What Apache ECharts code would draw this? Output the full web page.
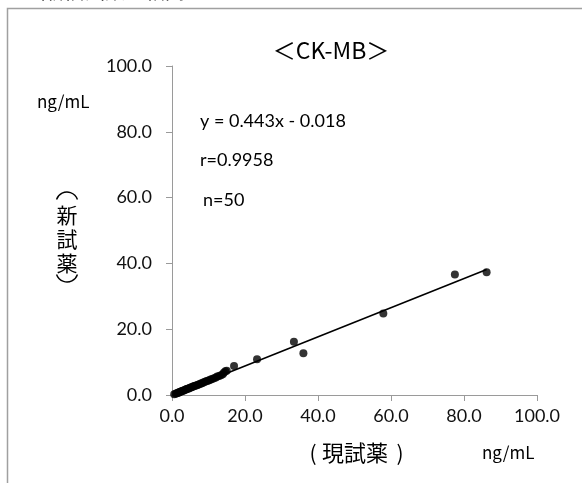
<!DOCTYPE html>
<html><head><meta charset="utf-8">
<script src="https://cdn.jsdelivr.net/npm/echarts@6/dist/echarts.min.js"></script>
<style>html,body{margin:0;padding:0;background:#fff}#c{width:582px;height:483px}</style>
</head><body><div id="c"></div>
<script>
// Data (現試薬 x, 新試薬 y), ng/mL
const xValues = [0.6,1.0,1.3,1.5,1.8,2.0,2.2,2.5,2.7,3.0,3.2,3.5,3.8,4.0,4.3,4.6,4.9,5.2,5.5,5.8,6.1,6.4,6.8,7.1,7.5,7.9,8.2,8.6,9.0,9.4,9.8,10.2,10.6,11.0,11.5,12.0,12.4,12.9,13.4,13.9,14.2,14.6,15.0,17.0,23.3,33.4,36.0,57.9,77.5,86.2];
const yValues = [0.2,0.4,0.5,0.6,0.7,0.9,0.9,1.1,1.2,1.3,1.4,1.5,1.7,1.8,1.9,2.0,2.2,2.3,2.4,2.6,2.7,2.8,3.0,3.1,3.3,3.5,3.6,3.8,4.0,4.2,4.3,4.5,4.7,4.9,5.1,5.3,5.6,5.8,6.0,6.3,6.8,7.2,7.4,8.8,10.9,16.2,12.7,24.8,36.6,37.3];
const slope = 0.443, intercept = -0.018;
const axisTicks = [0, 20, 40, 60, 80, 100];
const titleText = '＜CK-MB＞';
const statsLines = ['y = 0.443x - 0.018', 'r=0.9958', 'n=50'];
const yNameChars = ['新', '試', '薬'];
const xNameText = '現試薬';

const points = xValues.map((x, i) => [x, yValues[i]]);
const xMin = Math.min(...xValues), xMax = Math.max(...xValues);
const trend = [[xMin, slope * xMin + intercept], [xMax, slope * xMax + intercept]];

const chart = echarts.init(document.getElementById('c'), null, {renderer: 'canvas'});
const numFont = 'Lato, "Open Sans", sans-serif';
const jpFont = '"Noto Sans CJK JP", sans-serif';
const axisCommon = {
  type: 'value', min: axisTicks[0], max: axisTicks[axisTicks.length - 1], interval: 20,
  axisLine: {show: true, lineStyle: {color: '#9a9a9a', width: 1}},
  axisTick: {show: true, inside: false, length: 6, lineStyle: {color: '#9a9a9a'}},
  splitLine: {show: false},
  axisLabel: {color: '#111', fontFamily: numFont, fontSize: 18, formatter: v => v.toFixed(1)}
};
function txt(x, y, text, size, family, extra) {
  return {type: 'text', x: x, y: y, style: Object.assign({text: text, fontSize: size, fontFamily: family, fill: '#000', verticalAlign: 'middle'}, extra || {})};
}
const parenStyle = {stroke: '#000', lineWidth: 1.4, fill: null};
const yNameEls = [
  {type: 'arc', shape: {cx: 67, cy: 203, r: 11, startAngle: -Math.PI / 2 - 1.25, endAngle: -Math.PI / 2 + 1.25}, style: parenStyle},
  txt(67, 215, yNameChars[0], 21, jpFont, {align: 'center'}),
  txt(67, 239, yNameChars[1], 21, jpFont, {align: 'center'}),
  txt(67, 263, yNameChars[2], 21, jpFont, {align: 'center'}),
  {type: 'arc', shape: {cx: 67, cy: 271, r: 11, startAngle: Math.PI / 2 - 1.25, endAngle: Math.PI / 2 + 1.25}, style: parenStyle}
];
const xNameEls = [
  txt(313, 453, '(', 21, jpFont, {align: 'center'}),
  txt(355, 453, xNameText, 22, jpFont, {align: 'center'}),
  txt(400, 453, ')', 21, jpFont, {align: 'center'})
];
chart.setOption({
  animation: false,
  backgroundColor: '#fff',
  grid: {left: 172, right: 45, top: 66, bottom: 88, containLabel: false},
  xAxis: Object.assign({}, axisCommon, {axisLabel: Object.assign({}, axisCommon.axisLabel, {margin: 12})}),
  yAxis: Object.assign({}, axisCommon, {axisLabel: Object.assign({}, axisCommon.axisLabel, {margin: 20})}),
  series: [
    {type: 'scatter', data: points, symbol: 'circle', symbolSize: 8, itemStyle: {color: '#000'}, z: 3},
    {type: 'line', data: trend, showSymbol: false, symbol: 'none', lineStyle: {color: '#000', width: 1.6}, z: 2}
  ],
  graphic: [
    {type: 'polyline', shape: {points: [[7.5, 483], [7.5, 8.5], [582, 8.5]]}, style: {stroke: '#a0a0a0', lineWidth: 1.5, fill: null}},
    txt(25, -9, '（新旧試薬の相関', 20, jpFont, {fill: '#333'}),
    txt(331, 50, titleText, 23, jpFont, {align: 'center'}),
    txt(200, 121, statsLines[0], 18, numFont),
    txt(200, 160, statsLines[1], 18, numFont),
    txt(203, 200, statsLines[2], 18, numFont)
  ].concat(yNameEls, xNameEls, [
    txt(37, 102, 'ng/mL', 17, jpFont),
    txt(482, 453, 'ng/mL', 17, jpFont)
  ])
});
</script></body></html>
